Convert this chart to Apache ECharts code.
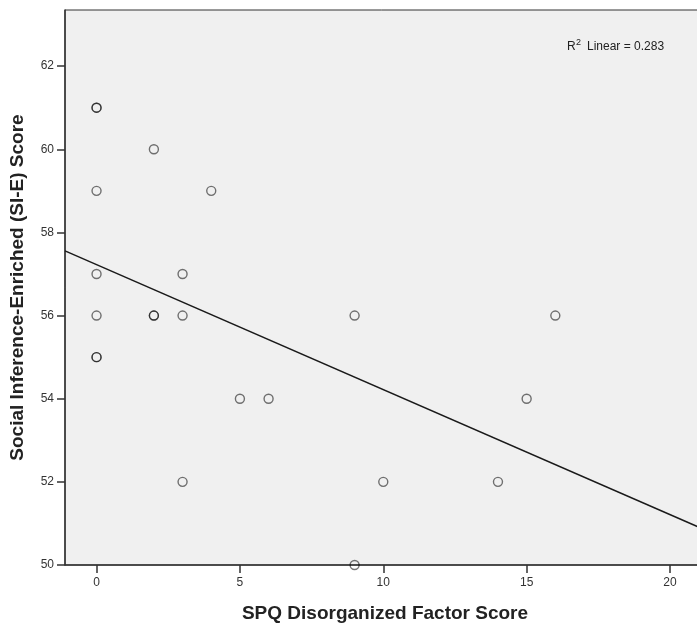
<!DOCTYPE html>
<html>
<head>
<meta charset="utf-8">
<script src="https://cdn.jsdelivr.net/npm/echarts@6/dist/echarts.min.js"></script>
<style>
html,body{margin:0;padding:0;background:#fff;overflow:hidden;}
#chart{width:697px;height:628px;}
</style>
</head>
<body>
<div id="chart"></div>
<script>
// SPQ Disorganized Factor Score (x) vs Social Inference-Enriched (SI-E) Score (y)
const spqScores = [0, 0, 0, 0, 0, 0, 0, 2, 2, 2, 3, 3, 3, 4, 5, 6, 9, 9, 10, 14, 15, 16];
const sieScores = [61, 61, 59, 57, 56, 55, 55, 60, 56, 56, 57, 56, 52, 59, 54, 54, 56, 50, 52, 52, 54, 56];
const xTicks = [0, 5, 10, 15, 20];
const yTicks = [50, 52, 54, 56, 58, 60, 62];
const xRange = [-1.1, 21.22];
const yRange = [50, 63.35];
const r2Label = 'Linear = 0.283';

const points = spqScores.map((x, i) => [x, sieScores[i]]);

// least-squares fit line
const n = spqScores.length;
const mx = spqScores.reduce((a, b) => a + b, 0) / n;
const my = sieScores.reduce((a, b) => a + b, 0) / n;
let sxy = 0, sxx = 0;
for (let i = 0; i < n; i++) {
  sxy += (spqScores[i] - mx) * (sieScores[i] - my);
  sxx += (spqScores[i] - mx) ** 2;
}
const slope = sxy / sxx;
const intercept = my - slope * mx;
const fitLine = xRange.map(x => [x, intercept + slope * x]);

const chart = echarts.init(document.getElementById('chart'), null, {renderer: 'canvas'});
const font = '"Liberation Sans", Arial, sans-serif';
chart.setOption({
  animation: false,
  backgroundColor: '#ffffff',
  grid: {
    left: 65, top: 10, bottom: 63, width: 640,
    outerBoundsMode: 'none', containLabel: false,
    show: true, backgroundColor: '#f0f0f0', borderColor: '#333', borderWidth: 1
  },
  xAxis: {
    type: 'value', min: xRange[0], max: xRange[1],
    name: 'SPQ Disorganized Factor Score',
    nameLocation: 'middle', nameGap: 39,
    nameTextStyle: {fontFamily: font, fontSize: 19, fontWeight: 'bold', color: '#222'},
    axisLine: {show: true, onZero: false, lineStyle: {color: '#333', width: 1.5}},
    axisTick: {show: true, length: 8, customValues: xTicks, lineStyle: {color: '#333', width: 1.5}},
    axisLabel: {customValues: xTicks, margin: 12, fontFamily: font, fontSize: 12, color: '#333'},
    splitLine: {show: false}
  },
  yAxis: {
    type: 'value', min: yRange[0], max: yRange[1],
    name: 'Social Inference-Enriched (SI-E) Score',
    nameLocation: 'middle', nameGap: 38,
    nameTextStyle: {fontFamily: font, fontSize: 19, fontWeight: 'bold', color: '#222'},
    axisLine: {show: true, onZero: false, lineStyle: {color: '#333', width: 1.5}},
    axisTick: {show: true, length: 8, customValues: yTicks, lineStyle: {color: '#333', width: 1.5}},
    axisLabel: {customValues: yTicks, margin: 11, fontFamily: font, fontSize: 12, color: '#333'},
    splitLine: {show: false}
  },
  series: [
    {
      type: 'line', data: fitLine, showSymbol: false, symbol: 'none',
      lineStyle: {color: '#1a1a1a', width: 1.5}, silent: true, z: 2
    },
    {
      type: 'scatter', data: points, symbol: 'circle', symbolSize: 9,
      itemStyle: {color: 'rgba(0,0,0,0)', borderColor: 'rgba(0,0,0,0.68)', borderWidth: 1.4},
      z: 3
    }
  ],
  graphic: [
    {type: 'text', left: 567, top: 41, style: {text: 'R', fontFamily: font, fontSize: 12, fill: '#222'}},
    {type: 'text', left: 576, top: 38, style: {text: '2', fontFamily: font, fontSize: 9, fill: '#222'}},
    {type: 'text', left: 587, top: 41, style: {text: r2Label, fontFamily: font, fontSize: 12, fill: '#222'}}
  ]
});
</script>
</body>
</html>
